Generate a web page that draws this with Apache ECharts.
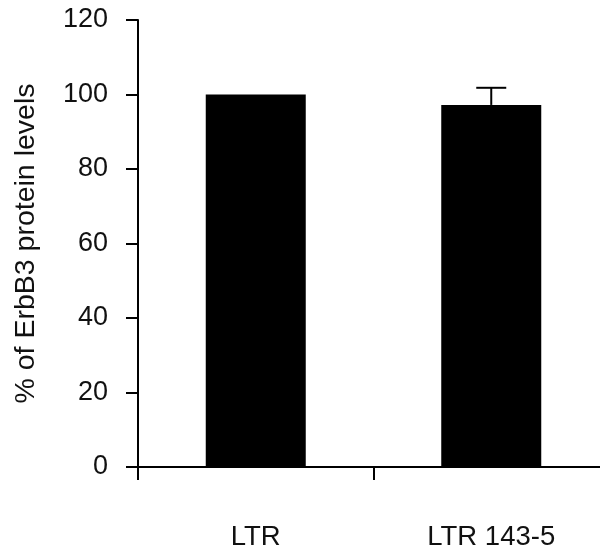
<!DOCTYPE html>
<html>
<head>
<meta charset="utf-8">
<script src="https://cdn.jsdelivr.net/npm/echarts@6/dist/echarts.min.js"></script>
<style>html,body{margin:0;padding:0;background:#fff;}#c{width:600px;height:554px;}</style>
</head>
<body>
<div id="c"></div>
<script>
var categories = ['LTR', 'LTR 143-5'];
var values = [100, 97.2];
var errors = [0, 4.6];
var yTicks = [0, 20, 40, 60, 80, 100, 120];

var chart = echarts.init(document.getElementById('c'), null, {renderer: 'canvas'});
var FONT = 'Liberation Sans, Arial, Helvetica, sans-serif';
var errData = values.map(function (v, i) { return [i, v, v + errors[i]]; });
chart.setOption({
  animation: false,
  backgroundColor: '#fff',
  grid: {left: 138, top: 20, bottom: 87, width: 471, containLabel: false, outerBoundsMode: 'none'},
  xAxis: {
    type: 'category',
    data: categories,
    boundaryGap: true,
    axisLine: {lineStyle: {color: '#000', width: 2}},
    axisTick: {show: true, length: 13, lineStyle: {color: '#000', width: 2}},
    axisLabel: {color: '#111', fontSize: 27.5, fontFamily: FONT, margin: 56}
  },
  yAxis: {
    type: 'value',
    min: 0, max: 120, interval: 20,
    name: '% of ErbB3 protein levels',
    nameLocation: 'middle',
    nameGap: 97,
    nameTextStyle: {color: '#111', fontSize: 28.5, fontFamily: FONT},
    axisLine: {show: true, lineStyle: {color: '#000', width: 2}},
    axisTick: {show: true, length: 12, lineStyle: {color: '#000', width: 2}},
    axisLabel: {color: '#111', fontSize: 27, fontFamily: FONT, margin: 30,
      formatter: function (v) { return yTicks.indexOf(v) >= 0 ? String(v) : ''; }},
    splitLine: {show: false}
  },
  series: [
    {
      type: 'bar',
      data: values,
      barWidth: 100,
      itemStyle: {color: '#000'}
    },
    {
      type: 'custom',
      data: errData,
      z: 3,
      renderItem: function (params, api) {
        var x = api.value(0);
        var lo = api.coord([x, api.value(1)]);
        var hi = api.coord([x, api.value(2)]);
        if (api.value(2) <= api.value(1)) return null;
        var half = 15;
        var st = {stroke: '#000', lineWidth: 2};
        return {
          type: 'group',
          children: [
            {type: 'line', shape: {x1: hi[0], y1: lo[1], x2: hi[0], y2: hi[1]}, style: st},
            {type: 'line', shape: {x1: hi[0] - half, y1: hi[1], x2: hi[0] + half, y2: hi[1]}, style: st}
          ]
        };
      }
    }
  ]
});
</script>
</body>
</html>
